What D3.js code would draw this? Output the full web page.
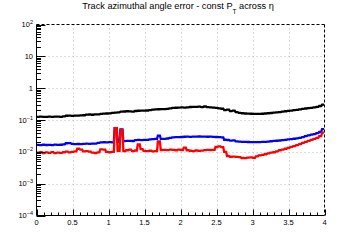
<!DOCTYPE html>
<html>
<head>
<meta charset="utf-8">
<script src="https://d3js.org/d3.v7.min.js"></script>
<style>
  body { margin: 0; background: #fff; }
  svg { font-family: "Liberation Sans", Arial, sans-serif; }
</style>
</head>
<body>
<svg id="chart" width="360" height="240"></svg>
<script>
// ---- data: 100 eta bins of width 0.04 from 0 to 4 ----
var binWidth = 0.04;
var xTicks = [0, 0.5, 1, 1.5, 2, 2.5, 3, 3.5, 4];
var yTicks = [1e-4, 1e-3, 1e-2, 1e-1, 1, 10, 100];

var blackVals = [
  0.125, 0.127, 0.126, 0.125, 0.127, 0.126, 0.128, 0.127, 0.126, 0.130,
  0.136, 0.137, 0.135, 0.138, 0.137, 0.139, 0.141,
  0.147, 0.149, 0.146, 0.151, 0.150, 0.155,
  0.158, 0.160, 0.162, 0.168, 0.171, 0.173,
  0.182, 0.185, 0.188, 0.186, 0.184,
  0.192, 0.195, 0.197, 0.196, 0.199, 0.205,
  0.212, 0.216, 0.218, 0.220, 0.219, 0.224, 0.232,
  0.240, 0.243, 0.246, 0.248, 0.245, 0.250, 0.256,
  0.260, 0.258, 0.263, 0.255, 0.266, 0.252,
  0.248, 0.245, 0.240, 0.232, 0.226,
  0.205, 0.212, 0.190, 0.198, 0.178,
  0.168, 0.163, 0.160, 0.158, 0.157, 0.156,
  0.155, 0.156, 0.157, 0.160, 0.163, 0.166,
  0.170, 0.174, 0.178, 0.183, 0.188, 0.193,
  0.198, 0.203, 0.208, 0.215, 0.222, 0.230,
  0.236, 0.242, 0.250, 0.258, 0.275, 0.305
];
var blueVals = [
  0.0165, 0.0163, 0.0167, 0.0164, 0.0166, 0.0162, 0.0168, 0.0165, 0.0167, 0.0172,
  0.0186, 0.0188, 0.0178, 0.0175, 0.0176, 0.0174, 0.0178,
  0.0180, 0.0179, 0.0182, 0.0181, 0.0190, 0.0198,
  0.0200, 0.0198, 0.0202, 0.0199, 0.055, 0.0205,
  0.051, 0.0218, 0.0220, 0.0222, 0.0219,
  0.0232, 0.0236, 0.0234, 0.0238, 0.0237, 0.0245,
  0.0250, 0.0255, 0.0325, 0.0254, 0.0256, 0.0262, 0.0275,
  0.0285, 0.0288, 0.0290, 0.0292, 0.0298, 0.0300, 0.0297,
  0.0302, 0.0299, 0.0303, 0.0300, 0.0301, 0.0298,
  0.0300, 0.0297, 0.0292, 0.0288, 0.0285,
  0.0240, 0.0235, 0.0225, 0.0228, 0.0212,
  0.0208, 0.0206, 0.0205, 0.0204, 0.0203, 0.0202,
  0.0202, 0.0203, 0.0205, 0.0207, 0.0210, 0.0215,
  0.0220, 0.0223, 0.0227, 0.0232, 0.0238, 0.0245,
  0.0252, 0.0258, 0.0265, 0.0275, 0.0290, 0.0310,
  0.0330, 0.0345, 0.0360, 0.0385, 0.0420, 0.0520
];
var redVals = [
  0.0094, 0.0097, 0.0092, 0.0096, 0.0093, 0.0098, 0.0091, 0.0095, 0.0093, 0.0097,
  0.0102, 0.0096, 0.0099, 0.0104, 0.0125, 0.0118, 0.0103,
  0.0105, 0.0101, 0.0094, 0.0092, 0.0096, 0.0120,
  0.0118, 0.0100, 0.0097, 0.0099, 0.055, 0.0108,
  0.049, 0.0105, 0.0112, 0.0118, 0.0106,
  0.0110, 0.0170, 0.0122, 0.0107, 0.0105, 0.0108,
  0.0104, 0.0106, 0.0211, 0.0114, 0.0116, 0.0113, 0.0117,
  0.0115, 0.0112, 0.0118, 0.0114, 0.0135, 0.0112, 0.0108,
  0.0106, 0.0110, 0.0107, 0.0109, 0.0113, 0.0115,
  0.0114, 0.0116, 0.0142, 0.0148, 0.0140,
  0.0100, 0.0074, 0.0070, 0.0071, 0.0069,
  0.0068, 0.0064, 0.0063, 0.0066, 0.0067, 0.0065,
  0.0072, 0.0077, 0.0080, 0.0084, 0.0089, 0.0094,
  0.0097, 0.0104, 0.0112, 0.0118, 0.0125, 0.0134,
  0.0143, 0.0152, 0.0162, 0.0175, 0.0190, 0.0205,
  0.0220, 0.0238, 0.0255, 0.0275, 0.0310, 0.0400
];
var series = [
  {name: "black", color: "#000000", values: blackVals},
  {name: "blue", color: "#0000ff", values: blueVals},
  {name: "red", color: "#ff0000", values: redVals}
];

// ---- layout ----
var padL = 36.5, padR = 324.5, padT = 24.5, padB = 215.5;
var svg = d3.select("#chart");

var x = d3.scaleLinear().domain([0, 4]).range([padL, padR]);
var y = d3.scaleLog().domain([1e-4, 100]).range([padB, padT]);

// grid
var gx = [0.5, 1, 1.5, 2, 2.5, 3, 3.5];
svg.append("g").selectAll("line").data(gx).enter().append("line")
  .attr("x1", d => Math.round(x(d)) + 0.5).attr("x2", d => Math.round(x(d)) + 0.5)
  .attr("y1", padT).attr("y2", padB)
  .attr("stroke", "#bbb").attr("stroke-width", 1).attr("stroke-dasharray", "1,3");
var gy = [1e-3, 1e-2, 1e-1, 1, 10];
svg.append("g").selectAll("line").data(gy).enter().append("line")
  .attr("y1", d => Math.round(y(d)) + 0.5).attr("y2", d => Math.round(y(d)) + 0.5)
  .attr("x1", padL).attr("x2", padR)
  .attr("stroke", "#bbb").attr("stroke-width", 1).attr("stroke-dasharray", "1,3");

// series as histogram steps (narrow risers so single-bin spikes stay thin)
function stepPoints(vals) {
  var pts = [];
  vals.forEach(function (v, i) {
    var c = (i + 0.5) * binWidth;
    pts.push([c - binWidth * 0.35, v]);
    pts.push([c + binWidth * 0.35, v]);
  });
  return pts;
}
var line = d3.line().x(d => x(d[0])).y(d => y(d[1]));
series.forEach(function (s) {
  svg.append("path")
    .datum(stepPoints(s.values))
    .attr("d", line)
    .attr("fill", "none")
    .attr("stroke", s.color)
    .attr("stroke-width", 2.3)
    .attr("stroke-linejoin", "miter");
});

// frame: top/right dashed
svg.append("line").attr("x1", padL).attr("x2", padR).attr("y1", padT).attr("y2", padT)
  .attr("stroke", "#000").attr("stroke-dasharray", "3,2");
svg.append("line").attr("x1", padR).attr("x2", padR).attr("y1", padT).attr("y2", padB)
  .attr("stroke", "#000").attr("stroke-dasharray", "3,2");

// x axis
var xMinor = d3.range(0, 40.5, 1).map(d => d / 10);
svg.append("g").selectAll("line").data(xMinor).enter().append("line")
  .attr("x1", d => Math.round(x(d)) + 0.5).attr("x2", d => Math.round(x(d)) + 0.5)
  .attr("y1", padB)
  .attr("y2", d => padB - (Math.abs(d * 2 - Math.round(d * 2)) < 1e-6 ? 6 : 3))
  .attr("stroke", "#000");
svg.append("line").attr("x1", padL).attr("x2", padR).attr("y1", padB).attr("y2", padB)
  .attr("stroke", "#000");
svg.append("g").selectAll("text").data(xTicks).enter().append("text")
  .attr("x", d => x(d)).attr("y", 225)
  .attr("text-anchor", "middle").attr("font-size", 7.5)
  .text(d => d3.format("~g")(d));

// y axis
var yMinor = [];
for (var e = -4; e < 2; e++) {
  for (var m = 2; m <= 9; m++) yMinor.push(m * Math.pow(10, e));
}
svg.append("g").selectAll("line").data(yMinor).enter().append("line")
  .attr("y1", d => Math.round(y(d)) + 0.5).attr("y2", d => Math.round(y(d)) + 0.5)
  .attr("x1", padL).attr("x2", padL + 4.5)
  .attr("stroke", "#000");
svg.append("g").selectAll("line").data(yTicks).enter().append("line")
  .attr("y1", d => Math.round(y(d)) + 0.5).attr("y2", d => Math.round(y(d)) + 0.5)
  .attr("x1", padL).attr("x2", padL + 9)
  .attr("stroke", "#000");
svg.append("line").attr("x1", padL).attr("x2", padL).attr("y1", padT).attr("y2", padB)
  .attr("stroke", "#000");

var yl = svg.append("g").selectAll("text").data(yTicks).enter().append("text")
  .attr("x", 33).attr("y", d => y(d) + 2.5)
  .attr("text-anchor", "end").attr("font-size", 7.5);
yl.each(function (d) {
  var t = d3.select(this);
  var ex = Math.round(Math.log10(d));
  if (ex === 0) { t.text("1"); return; }
  if (ex === 1) { t.text("10"); return; }
  t.append("tspan").text("10");
  t.append("tspan").attr("dy", -3).attr("font-size", 5.5)
    .text(ex < 0 ? "\u2212" + (-ex) : ex);
});

// title
var title = svg.append("text").attr("x", 178).attr("y", 9)
  .attr("text-anchor", "middle").attr("font-size", 9.2);
title.append("tspan").text("Track azimuthal angle error - const P");
title.append("tspan").attr("dy", 5).attr("font-size", 6.5).text("T");
title.append("tspan").attr("dy", -5).text("  across \u03b7");
</script>
</body>
</html>
